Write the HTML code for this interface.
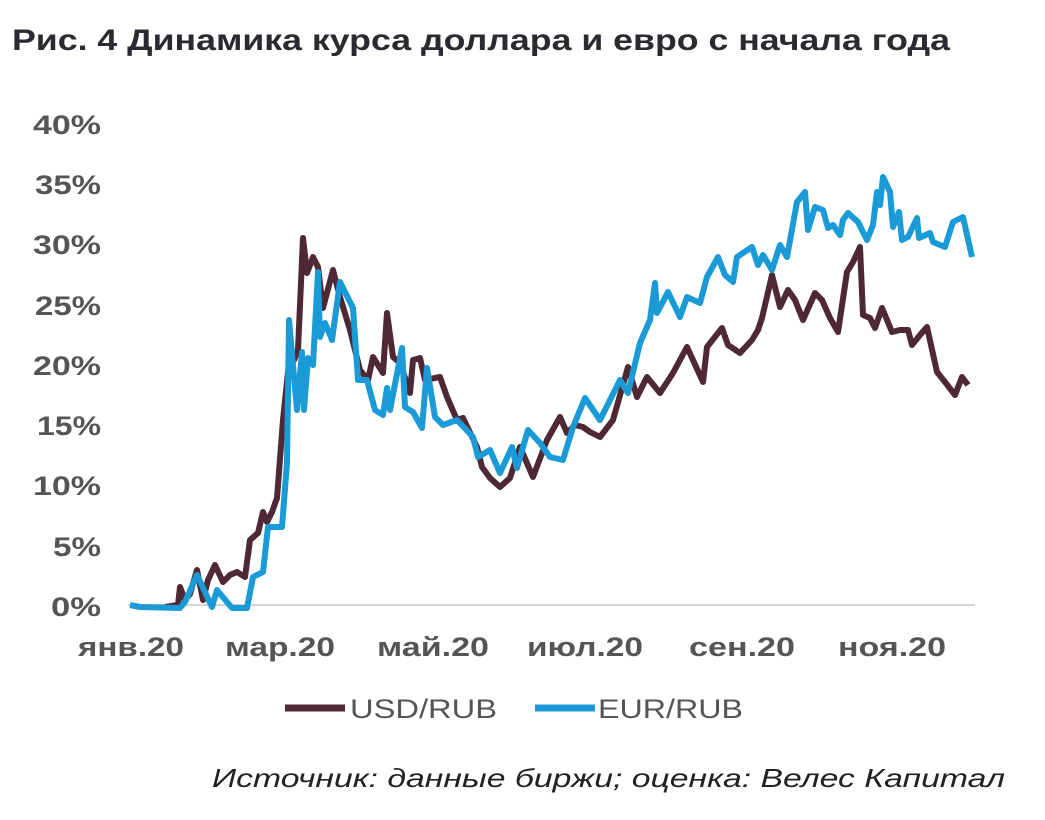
<!DOCTYPE html>
<html><head><meta charset="utf-8"><style>
body{margin:0;background:#fff;width:1045px;height:815px;overflow:hidden;font-family:"Liberation Sans",sans-serif}
</style></head><body>
<svg width="1045" height="815" xmlns="http://www.w3.org/2000/svg" font-family="Liberation Sans, sans-serif">
<text x="12" y="50" font-size="30" font-weight="bold" fill="#2a2a33" textLength="938" lengthAdjust="spacingAndGlyphs">Рис. 4 Динамика курса доллара и евро с начала года</text>
<g font-size="27" font-weight="bold" fill="#555" text-anchor="end" lengthAdjust="spacingAndGlyphs">
<text x="101" y="134" textLength="68" lengthAdjust="spacingAndGlyphs">40%</text><text x="101" y="194" textLength="66" lengthAdjust="spacingAndGlyphs">35%</text><text x="101" y="254" textLength="68" lengthAdjust="spacingAndGlyphs">30%</text>
<text x="101" y="315" textLength="66" lengthAdjust="spacingAndGlyphs">25%</text><text x="101" y="375" textLength="68" lengthAdjust="spacingAndGlyphs">20%</text><text x="101" y="435" textLength="64" lengthAdjust="spacingAndGlyphs">15%</text>
<text x="101" y="495" textLength="68" lengthAdjust="spacingAndGlyphs">10%</text><text x="101" y="556" textLength="48" lengthAdjust="spacingAndGlyphs">5%</text><text x="101" y="616" textLength="50" lengthAdjust="spacingAndGlyphs">0%</text>
</g>
<line x1="128" y1="605" x2="975" y2="605" stroke="#d4d4d4" stroke-width="2"/>
<g font-size="27" font-weight="bold" fill="#555" text-anchor="middle">
<text x="131" y="656" textLength="106" lengthAdjust="spacingAndGlyphs">янв.20</text><text x="280" y="656" textLength="110" lengthAdjust="spacingAndGlyphs">мар.20</text><text x="433" y="656" textLength="112" lengthAdjust="spacingAndGlyphs">май.20</text>
<text x="585" y="656" textLength="116" lengthAdjust="spacingAndGlyphs">июл.20</text><text x="742" y="656" textLength="106" lengthAdjust="spacingAndGlyphs">сен.20</text><text x="892" y="656" textLength="108" lengthAdjust="spacingAndGlyphs">ноя.20</text>
</g>
<polyline fill="none" stroke="#4e2833" stroke-width="6" stroke-linejoin="round" points="165,607 178,605 180,587 185,600 190,594 197,570 203,600 208,580 215,565 223,582 230,575 237,572 245,577 250,540 258,533 263,512 267,522 272,512 277,498 283,420 290,353 294,360 298,350 303,238 307,273 313,257 318,267 323,308 333,270 340,297 350,330 360,370 368,380 373,357 383,373 387,313 393,357 400,363 410,393 413,360 420,358 425,380 440,377 447,397 457,420 463,418 477,447 482,467 490,478 500,487 510,478 520,447 533,477 547,440 560,417 567,433 575,425 583,427 590,432 600,437 613,420 628,367 637,397 647,377 660,393 673,373 687,347 703,382 707,347 722,328 728,345 740,353 752,340 758,330 762,318 772,275 780,307 788,290 795,300 803,320 815,293 822,300 830,318 838,332 847,272 853,262 860,247 863,315 870,318 875,328 882,308 892,332 900,330 908,330 912,345 920,335 927,327 937,372 945,382 955,395 962,377 968,385"/>
<polyline fill="none" stroke="#1a9ad6" stroke-width="6" stroke-linejoin="round" points="130,605 140,607 180,608 185,602 197,575 212,607 217,590 232,608 247,608 253,577 263,572 268,527 282,527 287,463 289,320 297,410 302,352 304,410 308,358 313,365 318,272 320,337 325,323 332,340 340,282 353,308 358,380 367,380 375,410 383,415 387,388 390,410 402,348 405,407 413,412 422,428 427,368 435,417 443,425 457,420 473,437 478,457 490,450 500,473 512,447 517,468 528,430 540,443 550,457 563,460 573,427 585,398 600,420 620,380 628,393 640,343 650,320 655,283 657,313 668,292 680,317 687,297 700,303 707,277 718,257 725,275 733,282 737,257 752,247 758,265 763,255 772,270 780,245 787,257 797,202 805,192 808,230 815,207 823,210 828,228 833,225 840,235 843,220 848,213 858,222 867,240 873,225 877,192 880,205 883,177 890,192 893,227 899,212 902,240 908,237 917,218 919,238 930,233 933,242 945,247 953,222 963,217 972,257"/>
<line x1="285" y1="708" x2="345" y2="708" stroke="#4e2833" stroke-width="7"/>
<text x="350" y="718" font-size="27" fill="#555" textLength="147" lengthAdjust="spacingAndGlyphs">USD/RUB</text>
<line x1="535" y1="708" x2="595" y2="708" stroke="#1a9ad6" stroke-width="7"/>
<text x="598" y="718" font-size="27" fill="#555" textLength="145" lengthAdjust="spacingAndGlyphs">EUR/RUB</text>
<text x="212" y="787" font-size="26" font-style="italic" fill="#222" textLength="793" lengthAdjust="spacingAndGlyphs">Источник: данные биржи; оценка: Велес Капитал</text>
</svg>
</body></html>
